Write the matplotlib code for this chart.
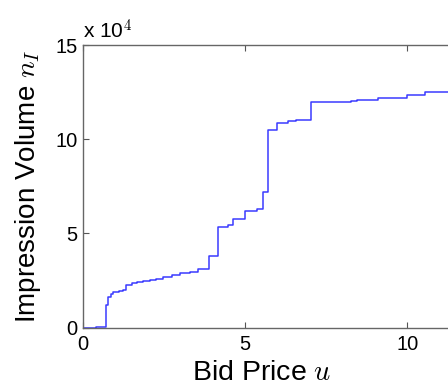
import matplotlib
matplotlib.use("Agg")
import matplotlib.pyplot as plt
from matplotlib.ticker import FuncFormatter

# bid price u and cumulative impression volume n_I (counts)
bid_price = [0.0, 0.40, 0.71, 0.78, 0.85, 0.93, 1.10, 1.24, 1.34, 1.50, 1.65,
             1.85, 2.06, 2.25, 2.47, 2.75, 2.99, 3.30, 3.55, 3.88, 4.15, 4.48,
             4.63, 4.99, 5.35, 5.56, 5.71, 5.99, 6.33, 6.58, 7.03, 8.27, 8.44,
             9.10, 9.99, 10.54, 11.40]
impressions = [0, 500, 12000, 16400, 17800, 19000, 19500, 20000, 22600, 23600,
               24400, 24900, 25300, 26000, 26700, 27700, 28800, 29700, 30900,
               38000, 53500, 54500, 57700, 62100, 62900, 72200, 105000, 108500,
               109500, 110400, 119600, 120200, 121000, 121700, 123700, 125300,
               125300]

xticks = [0, 5, 10]
yticks = [0, 50000, 100000, 150000]

plt.rcParams['font.family'] = ['Liberation Sans', 'DejaVu Sans']
plt.rcParams['mathtext.fontset'] = 'cm'

fig = plt.figure(figsize=(4.48, 3.85), dpi=100)
# axes runs past the right edge of the figure (the original is cropped)
ax = fig.add_axes([0.1853, 0.149, 0.869, 0.734])

ax.step(bid_price, impressions, where='post', color='#3a3aff', lw=1.1)

ax.set_xlim(0, 12)
ax.set_ylim(0, 150000)
ax.set_xticks(xticks)
ax.set_yticks(yticks)
ax.yaxis.set_major_formatter(FuncFormatter(lambda v, p: "%d" % round(v / 1e4)))
ax.tick_params(direction='in', length=4, width=0.8, colors='#555555',
               labelcolor='black', labelsize=14.5, top=True, right=True)
ax.tick_params(axis='x', pad=5)
ax.tick_params(axis='y', pad=4)
for s in ax.spines.values():
    s.set_color('#666666')
    s.set_linewidth(1.0)

ax.set_xlabel("Bid Price $u$", fontsize=20.5)
ax.xaxis.set_label_coords(5.5 / 12, -0.113)
ax.xaxis.label.set_va('top')
ax.set_ylabel("Impression Volume $n_I$", fontsize=20, labelpad=9)
ax.text(0.0, 1.008, "x 10$^4$", transform=ax.transAxes, fontsize=15,
        ha='left', va='bottom')

fig.savefig("out.png", dpi=100)
